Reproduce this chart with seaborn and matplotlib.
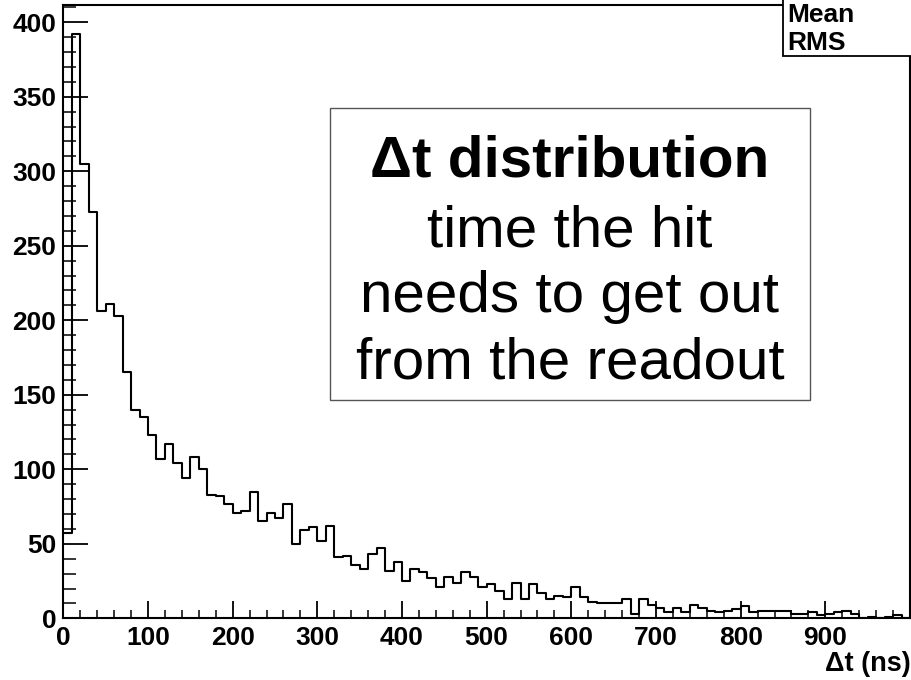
import numpy as np
import pandas as pd
import matplotlib
matplotlib.use("Agg")
import matplotlib.pyplot as plt
from matplotlib.patches import Rectangle
from matplotlib.ticker import MultipleLocator, FixedLocator
import seaborn as sns

# ---- data (10 ns bins, 0..1000 ns) ----
bin_edges = list(range(0, 1010, 10))
counts = [57, 392, 305, 273, 206, 211, 203, 165, 140, 135,
          123, 107, 117, 104, 94, 108, 100, 83, 82, 77,
          71, 72, 85, 65, 71, 67, 77, 50, 59, 61,
          52, 62, 41, 42, 36, 33, 43, 47, 32, 38,
          25, 33, 31, 27, 21, 28, 24, 31, 28, 21,
          23, 18, 13, 24, 13, 23, 17, 13, 15, 14,
          21, 14, 11, 10, 10, 10, 13, 3, 13, 9,
          7, 4, 7, 4, 9, 7, 5, 4, 5, 6,
          8, 4, 5, 5, 5, 5, 3, 3, 4, 2,
          3, 4, 5, 3, 0, 1, 0, 1, 2, 0]
x_ticks = [0, 100, 200, 300, 400, 500, 600, 700, 800, 900]
y_ticks = [0, 50, 100, 150, 200, 250, 300, 350, 400]
box_lines = ["time the hit", "needs to get out", "from the readout"]
box_title = "Δt distribution"
stat_names = ["Mean", "RMS"]
x_label = "Δt (ns)"

centers = [(a + b) / 2 for a, b in zip(bin_edges[:-1], bin_edges[1:])]
df = pd.DataFrame({"t": centers, "n": counts})

sns.set_theme(style="ticks")
plt.rcParams["font.family"] = ["Liberation Sans", "DejaVu Sans"]

W, H = 912, 680
fig = plt.figure(figsize=(W / 100, H / 100), dpi=100)
fig.patch.set_facecolor("white")

def fx(px):
    return px / W

def fy(py):
    return 1 - py / H

left, right, top, bottom = 63.3, 910.0, 4.7, 618.3
ax = fig.add_axes([fx(left), fy(bottom), fx(right - left), (bottom - top) / H])
ax.set_facecolor("white")

sns.histplot(data=df, x="t", weights="n", bins=bin_edges, element="step",
             fill=False, color="black", linewidth=1.5, ax=ax)

ax.set_xlim(0, 1000)
ax.set_ylim(0, (bottom - top) / 1.49)
ax.set_xlabel("")
ax.set_ylabel("")

for s in ax.spines.values():
    s.set_linewidth(1.5)
    s.set_color("black")
    s.set_visible(True)

ax.xaxis.set_major_locator(FixedLocator(x_ticks))
ax.xaxis.set_minor_locator(MultipleLocator(20))
ax.yaxis.set_major_locator(FixedLocator(y_ticks))
ax.yaxis.set_minor_locator(MultipleLocator(10))

ax.tick_params(axis="x", which="major", direction="in", length=12.2, width=1.3,
               labelsize=19, pad=5.5, top=False, colors="black")
ax.tick_params(axis="x", which="minor", direction="in", length=6, width=1.3, top=False)
ax.tick_params(axis="y", which="major", direction="in", length=18, width=1.3,
               labelsize=19, pad=5, right=False, colors="black")
ax.tick_params(axis="y", which="minor", direction="in", length=9, width=1.3, right=False)
for lab in ax.get_xticklabels() + ax.get_yticklabels():
    lab.set_fontweight("bold")

# x axis title
fig.text(fx(911), fy(664), x_label, ha="right", va="center",
         fontsize=19.5, fontweight="bold", color="black")

# text box
bx0, by0, bx1, by1 = 330, 108.3, 810, 400
fig.add_artist(Rectangle((fx(bx0), fy(by1)), fx(bx1 - bx0), (by1 - by0) / H,
                         transform=fig.transFigure, facecolor="white",
                         edgecolor="#555555", linewidth=1.0, zorder=5))
cx = 570
fig.text(fx(cx), fy(176.7), box_title, ha="center", va="baseline",
         fontsize=42, fontweight="bold", color="black", zorder=6)
for line, bl in zip(box_lines, [246.7, 311.7, 378.3]):
    fig.text(fx(cx), fy(bl), line, ha="center", va="baseline",
             fontsize=42, color="black", zorder=6)

# stats box (cut by figure edge)
sx0, sy1 = 782.7, 55.5
fig.add_artist(Rectangle((fx(sx0), fy(sy1)), fx(W + 10 - sx0), (sy1 + 10) / H,
                         transform=fig.transFigure, facecolor="white",
                         edgecolor="black", linewidth=1.3, zorder=5, clip_on=False))
for name, bl in zip(stat_names, [21.7, 50.0]):
    fig.text(fx(787), fy(bl), name, ha="left", va="baseline",
             fontsize=19, fontweight="bold", color="black", zorder=6)

fig.savefig("out.png", dpi=100, facecolor="white")
